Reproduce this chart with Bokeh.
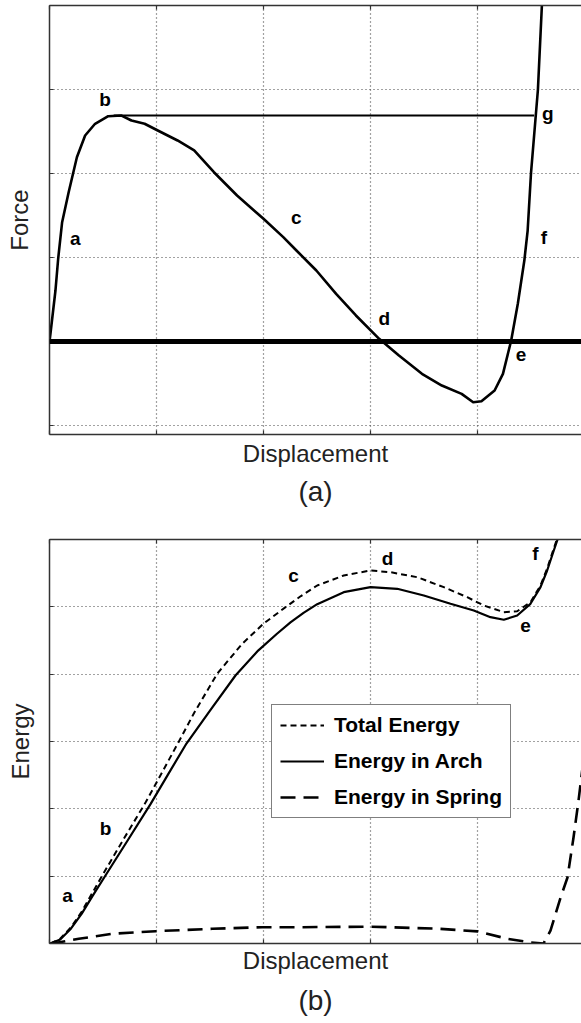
from bokeh.plotting import figure
from bokeh.models import (Range1d, LinearAxis, FixedTicker, Legend, LegendItem, Title, Span,
                          CustomLabelingPolicy)
from bokeh.layouts import column
from bokeh.embed import file_html
from bokeh.resources import INLINE
from bokeh.core.properties import value

FONT = "Liberation Sans"

# ---------------- Panel (a): Force vs displacement ----------------
force_x = [0.0, 0.009, 0.056, 0.081, 0.118, 0.179, 0.256, 0.333, 0.426, 0.549, 0.673, 0.766,
           0.889, 1.012, 1.197, 1.352, 1.537, 1.753, 2.0, 2.185, 2.308, 2.494, 2.679, 2.864,
           3.081, 3.266, 3.481, 3.667, 3.852, 3.96, 4.037, 4.16, 4.238, 4.315, 4.377, 4.438,
           4.469, 4.5, 4.565, 4.602, 4.63]
force_y = [0.0, 0.095, 0.61, 0.985, 1.42, 1.777, 2.194, 2.452, 2.592, 2.682, 2.69, 2.631,
           2.592, 2.512, 2.393, 2.274, 2.015, 1.738, 1.461, 1.242, 1.083, 0.845, 0.568, 0.31,
           0.032, -0.167, -0.385, -0.524, -0.623, -0.723, -0.711, -0.583, -0.385, 0.012, 0.449, 0.964,
           1.321, 2.0, 3.0, 4.0, 4.5]
peak_line_x = [0.6, 4.53]
peak_line_y = [2.69, 2.69]
a_label_x = [0.241, 0.519, 2.306, 3.13, 4.407, 4.62, 4.657]
a_label_y = [1.226, 2.881, 1.476, 0.274, -0.155, 1.238, 2.714]
a_label_text = ["a", "b", "c", "d", "e", "f", "g"]
a_xticks = [0, 1, 2, 3, 4]
a_yticks = [-1, 0, 1, 2, 3, 4]

# ---------------- Panel (b): Energy vs displacement ----------------
total_x = [0.009, 0.1, 0.2, 0.3, 0.4, 0.493, 0.7, 0.9, 1.206, 1.35, 1.567, 1.8,
           2.0, 2.206, 2.35, 2.502, 2.75, 3.0, 3.187, 3.437, 3.685, 3.904, 4.059, 4.246,
           4.371, 4.495, 4.589, 4.651, 4.713, 4.748, 4.776]
total_y = [0.0, 0.07, 0.24, 0.47, 0.75, 1.01, 1.57, 2.1, 2.99, 3.42, 4.006, 4.45,
           4.75, 4.995, 5.16, 5.317, 5.466, 5.54, 5.515, 5.44, 5.292, 5.143, 5.02, 4.921,
           4.935, 5.069, 5.317, 5.57, 5.867, 6.03, 6.16]
arch_x = [0.009, 0.1, 0.2, 0.3, 0.4, 0.523, 0.73, 0.944, 1.1, 1.28, 1.5, 1.738,
          1.95, 2.126, 2.252, 2.374, 2.502, 2.75, 3.0, 3.25, 3.498, 3.748, 3.965, 4.121,
          4.246, 4.371, 4.495, 4.589, 4.651, 4.713, 4.745, 4.776]
arch_y = [0.0, 0.06, 0.22, 0.44, 0.7, 1.01, 1.53, 2.07, 2.49, 2.97, 3.46, 3.98,
          4.35, 4.6, 4.77, 4.91, 5.04, 5.218, 5.292, 5.268, 5.169, 5.045, 4.946, 4.846,
          4.808, 4.871, 5.045, 5.292, 5.54, 5.837, 5.985, 6.134]
spring_x = [0.009, 0.025, 0.274, 0.586, 0.991, 1.521, 1.988, 2.346, 3.0, 3.626, 4.0, 4.28,
            4.495, 4.617, 4.682, 4.776, 4.841, 4.897, 4.944, 4.99]
spring_y = [0.0, 0.0, 0.07, 0.144, 0.183, 0.218, 0.242, 0.242, 0.25, 0.22, 0.18, 0.07,
            0.015, 0.0, 0.19, 0.68, 0.98, 1.57, 2.12, 2.72]
b_label_x = [0.168, 0.523, 2.28, 3.159, 4.449, 4.542]
b_label_y = [0.713, 1.708, 5.466, 5.718, 4.723, 5.792]
b_label_text = ["a", "b", "c", "d", "e", "f"]
b_xticks = [0, 1, 2, 3, 4]
b_yticks = [0, 1, 2, 3, 4, 5, 6]
legend_labels = ["Total Energy", "Energy in Arch", "Energy in Spring"]

HIDE_ALL = "for (const i of indices) indices.unset(i)"


def style_axis(ax, ticks, label_standoff=9):
    ax.ticker = FixedTicker(ticks=ticks)
    ax.major_label_overrides = {t: "" for t in ticks}
    ax.major_label_policy = CustomLabelingPolicy(code=HIDE_ALL)
    ax.major_label_text_font_size = "0px"
    ax.major_label_standoff = 0
    ax.major_tick_in = 4
    ax.major_tick_out = 0
    ax.minor_tick_line_color = None
    ax.axis_line_width = 1.5
    ax.axis_line_color = "#333333"
    ax.major_tick_line_color = "#333333"
    ax.major_tick_line_width = 1.2
    ax.axis_label_text_font = FONT
    ax.axis_label_text_font_size = "24px"
    ax.axis_label_text_font_style = "normal"
    ax.axis_label_text_color = "#222222"
    ax.axis_label_standoff = label_standoff


def make_fig(h, xr, yr, left, top, bottom, xticks, yticks, xlabel, ylabel, tag,
             xstand, ystand, tstand):
    p = figure(width=581, height=h, x_range=Range1d(*xr), y_range=Range1d(*yr),
               output_backend="svg", toolbar_location=None,
               min_border_left=left, min_border_right=0, min_border_top=top,
               min_border_bottom=bottom)
    p.outline_line_color = None
    p.background_fill_color = "white"
    style_axis(p.xaxis[0], xticks, xstand)
    style_axis(p.yaxis[0], yticks, ystand)
    p.xaxis[0].axis_label = xlabel
    p.yaxis[0].axis_label = ylabel
    top_ax = LinearAxis(axis_label=None)
    style_axis(top_ax, xticks)
    p.add_layout(top_ax, "above")
    for g in (p.xgrid[0], p.ygrid[0]):
        g.grid_line_dash = "1 3"
        g.grid_line_color = "#444444"
        g.grid_line_width = 1.2
    p.xgrid[0].ticker = FixedTicker(ticks=xticks)
    p.ygrid[0].ticker = FixedTicker(ticks=yticks)
    p.add_layout(Title(text=tag, align="center", text_font=FONT, text_font_size="28px",
                       text_font_style="normal", text_color="#222222", standoff=tstand), "below")
    return p


pa = make_fig(515, (0, 537 / 108), (-93 / 84, 4.0), 44, 5, 81,
              a_xticks, a_yticks, "Displacement", "Force", "(a)", 5, 17, 8)
pa.add_layout(Span(location=0, dimension="width", line_color="black", line_width=5))
pa.line(peak_line_x, peak_line_y, line_color="black", line_width=2)
pa.line(force_x, force_y, line_color="black", line_width=2.6, line_join="round")
pa.text(x=a_label_x, y=a_label_y, text=a_label_text, text_font=value(FONT),
        text_font_size="19px", text_font_style="bold", text_align="center",
        text_baseline="middle", text_color="black")

pb = make_fig(508, (0, 532 / 107), (0, 6), 49, 24, 80,
              b_xticks, b_yticks, "Displacement", "Energy", "(b)", 3, 16, 12)
r_total = pb.line(total_x, total_y, line_color="black", line_width=2, line_dash="6 4",
                  line_join="round")
r_arch = pb.line(arch_x, arch_y, line_color="black", line_width=2.2, line_join="round")
r_spring = pb.line(spring_x, spring_y, line_color="black", line_width=2.6, line_dash="15 8",
                   line_join="round")
pb.text(x=b_label_x, y=b_label_y, text=b_label_text, text_font=value(FONT),
        text_font_size="19px", text_font_style="bold", text_align="center",
        text_baseline="middle", text_color="black")

legend = Legend(items=[LegendItem(label=legend_labels[0], renderers=[r_total]),
                       LegendItem(label=legend_labels[1], renderers=[r_arch]),
                       LegendItem(label=legend_labels[2], renderers=[r_spring])],
                location=(222, 125))
legend.label_text_font = FONT
legend.label_text_font_size = "21px"
legend.label_text_font_style = "bold"
legend.label_text_color = "black"
legend.glyph_width = 44
legend.glyph_height = 22
legend.label_height = 22
legend.label_standoff = 10
legend.padding = 8
legend.spacing = 12
legend.margin = 0
legend.border_line_color = "black"
legend.border_line_width = 1.5
legend.background_fill_alpha = 1.0
pb.add_layout(legend)

layout = column(pa, pb, spacing=0)
open("out.html", "w").write(file_html(layout, INLINE))
